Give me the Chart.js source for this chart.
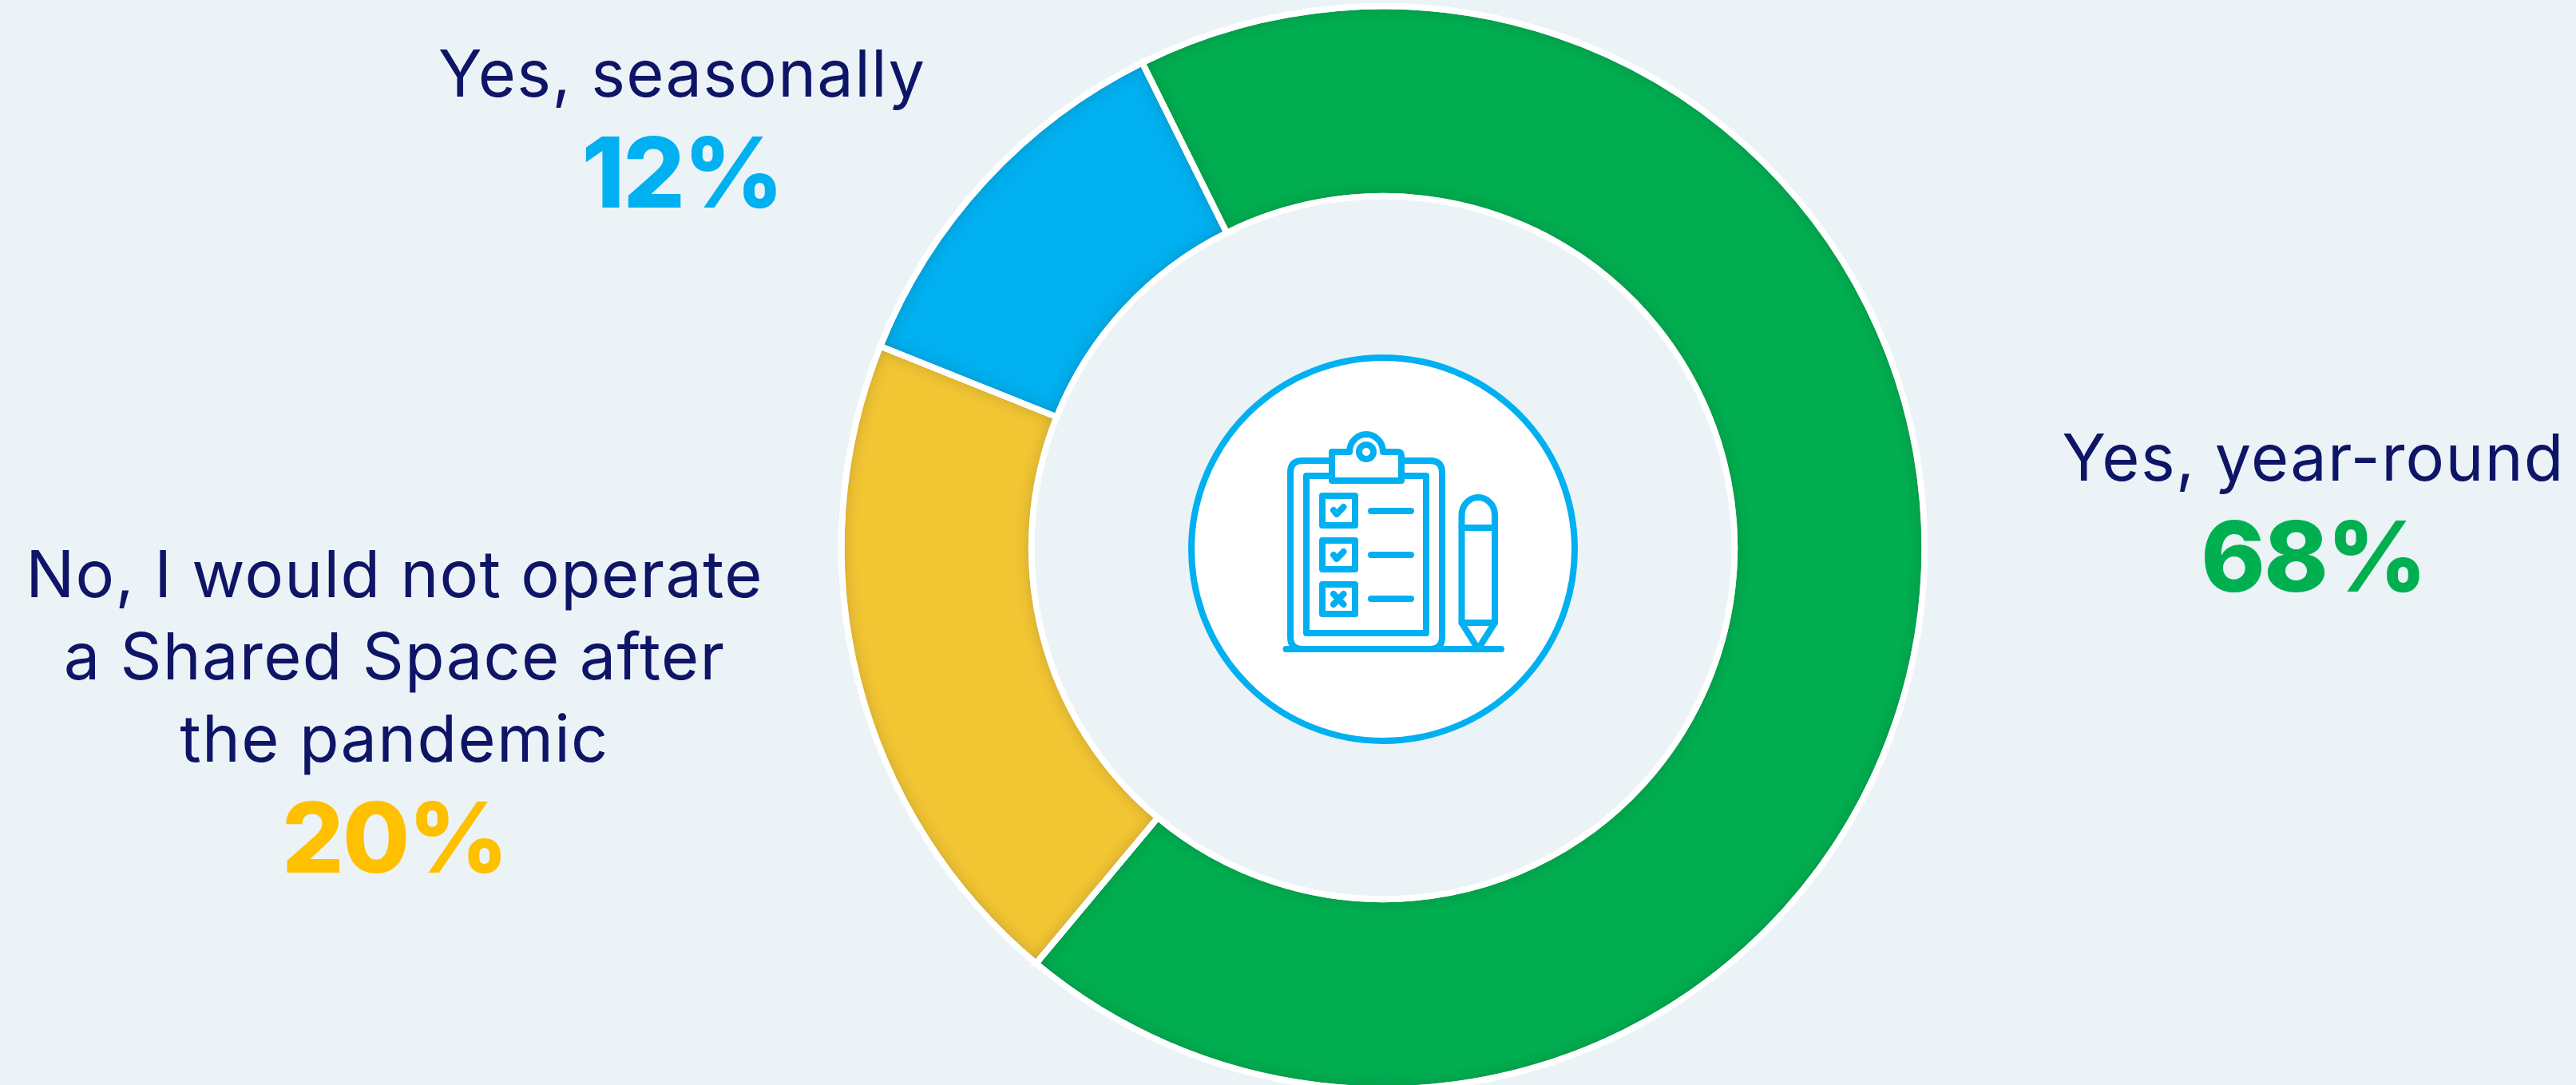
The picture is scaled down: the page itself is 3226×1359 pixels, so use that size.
<!DOCTYPE html>
<html>
<head>
<meta charset="utf-8">
<title>Shared Space after the pandemic</title>
<script src="https://cdn.jsdelivr.net/npm/chart.js@4/dist/chart.umd.min.js"></script>
<style>
    html, body { margin: 0; padding: 0; width: 3226px; height: 1359px; overflow: hidden; background: #ebf3f7; }
    #wrap { position: relative; width: 3226px; height: 1359px; overflow: hidden; }
    #donut { position: absolute; left: 0; top: -5px; }
    .lbl { position: absolute; transform: translateX(-50%); text-align: center; white-space: nowrap; font-family: Inter, sans-serif; }
    .lbl .name { color: #0e1566; font-size: 81px; line-height: 103px; font-weight: 400; letter-spacing: 1.3px; }
    .lbl .pct { font-size: 122px; line-height: 140px; font-weight: 800; letter-spacing: -2px; margin-top: 2px; }
    #icon { position: absolute; left: 0; top: 0; }
</style>
</head>
<body>
<div id="wrap">
    <canvas id="donut"></canvas>
    <svg id="icon" width="3226" height="1359" viewBox="0 0 3226 1359" fill="none" stroke="#00b0f0" stroke-width="8" stroke-linecap="round" stroke-linejoin="round">
        <circle cx="1732" cy="688" r="240" fill="#ffffff"/>
        <!-- clipboard board -->
        <path d="M1668 577 H1631 Q1616 577 1616 592 V798 Q1616 813 1631 813 H1791 Q1806 813 1806 798 V592 Q1806 577 1791 577 H1755"/>
        <path d="M1668 596 H1636 V793 H1786 V596 H1755"/>
        <path d="M1668 602 V566 H1690 A21 22 0 0 1 1732 566 H1750 Q1755 566 1755 571 V602 Z"/>
        <circle cx="1711" cy="566" r="9"/>
        <!-- check boxes -->
        <rect x="1656" y="621" width="41" height="37"/>
        <rect x="1656" y="677" width="41" height="36"/>
        <rect x="1656" y="732" width="41" height="37"/>
        <path d="M1670 639 L1674 644 L1682.5 635"/>
        <path d="M1670 695 L1674 700 L1682.5 691"/>
        <path d="M1670 744 L1682.5 757 M1682.5 744 L1670 757"/>
        <path d="M1717 640 H1767 M1717 695 H1767 M1717 750 H1767"/>
        <!-- pencil -->
        <path d="M1830.5 780 V645 A20.75 22 0 0 1 1872 645 V780 L1851 813 Z"/>
        <path d="M1830.5 661 H1872 M1830.5 780 H1872"/>
        <path d="M1610.5 813 H1880"/>
    </svg>
</div>
<script>
// ─── Data ─────────────────────────────────────────────
const categories = ['Yes, year-round', 'No, I would not operate a Shared Space after the pandemic', 'Yes, seasonally'];
const labelLines = [['Yes, year-round'], ['No, I would not operate', 'a Shared Space after', 'the pandemic'], ['Yes, seasonally']];
// slice sizes, printed rounded as in the picture (68 / 20 / 12)
const values = [68.4, 20.0, 11.6];
const sliceColors = ['#00ae50', '#f2c533', '#00b0f0'];
const pctColors = ['#00b050', '#ffc000', '#00b0f0'];

// label block anchors (centre x, top y)
const labelPos = [[2897, 522], [494, 668], [854, 41]];

const canvas = document.getElementById('donut');
canvas.width = 3226;
canvas.height = 1377;
canvas.style.width = '3226px';
canvas.style.height = '1377px';

// soft inner shadow along the slice edges, white border goes back on top
const sliceShade = {
    id: 'sliceShade',
    afterDatasetsDraw(chart) {
        const c = chart.ctx;
        chart.getDatasetMeta(0).data.forEach(arc => {
            const p = arc.getProps(['x', 'y', 'startAngle', 'endAngle', 'innerRadius', 'outerRadius'], true);
            const slicePath = () => {
                c.moveTo(p.x + p.outerRadius * Math.cos(p.startAngle), p.y + p.outerRadius * Math.sin(p.startAngle));
                c.arc(p.x, p.y, p.outerRadius, p.startAngle, p.endAngle);
                c.arc(p.x, p.y, p.innerRadius, p.endAngle, p.startAngle, true);
                c.closePath();
            };
            c.save();
            c.beginPath();
            slicePath();
            c.clip();
            c.beginPath();
            c.rect(0, 0, chart.width, chart.height);
            slicePath();
            c.shadowColor = 'rgba(40,40,40,0.3)';
            c.shadowBlur = 20;
            c.fillStyle = '#ffffff';
            c.fill('evenodd');
            c.restore();
            c.save();
            c.beginPath();
            slicePath();
            c.strokeStyle = '#ffffff';
            c.lineWidth = 7.6;
            c.lineJoin = 'miter';
            c.stroke();
            c.restore();
        });
    }
};

new Chart(canvas.getContext('2d'), {
    type: 'doughnut',
    data: {
        labels: categories,
        datasets: [{
            data: values,
            backgroundColor: sliceColors,
            borderColor: '#ffffff',
            borderWidth: 7.6,
            borderJoinStyle: 'miter',
        }]
    },
    options: {
        responsive: false,
        animation: false,
        devicePixelRatio: 1,
        cutout: '64.93%',
        rotation: -26.4,
        layout: { padding: { left: 1050, right: 812, top: 9, bottom: 4 } },
        plugins: { legend: { display: false }, tooltip: { enabled: false } }
    },
    plugins: [sliceShade]
});

// ─── Labels ───────────────────────────────────────────
const wrap = document.getElementById('wrap');
categories.forEach((c, i) => {
    const el = document.createElement('div');
    el.className = 'lbl';
    el.style.left = labelPos[i][0] + 'px';
    el.style.top = labelPos[i][1] + 'px';
    el.innerHTML = labelLines[i].map(t => `<div class="name">${t}</div>`).join('')
        + `<div class="pct" style="color:${pctColors[i]}">${Math.round(values[i])}%</div>`;
    wrap.appendChild(el);
});
</script>
</body>
</html>
